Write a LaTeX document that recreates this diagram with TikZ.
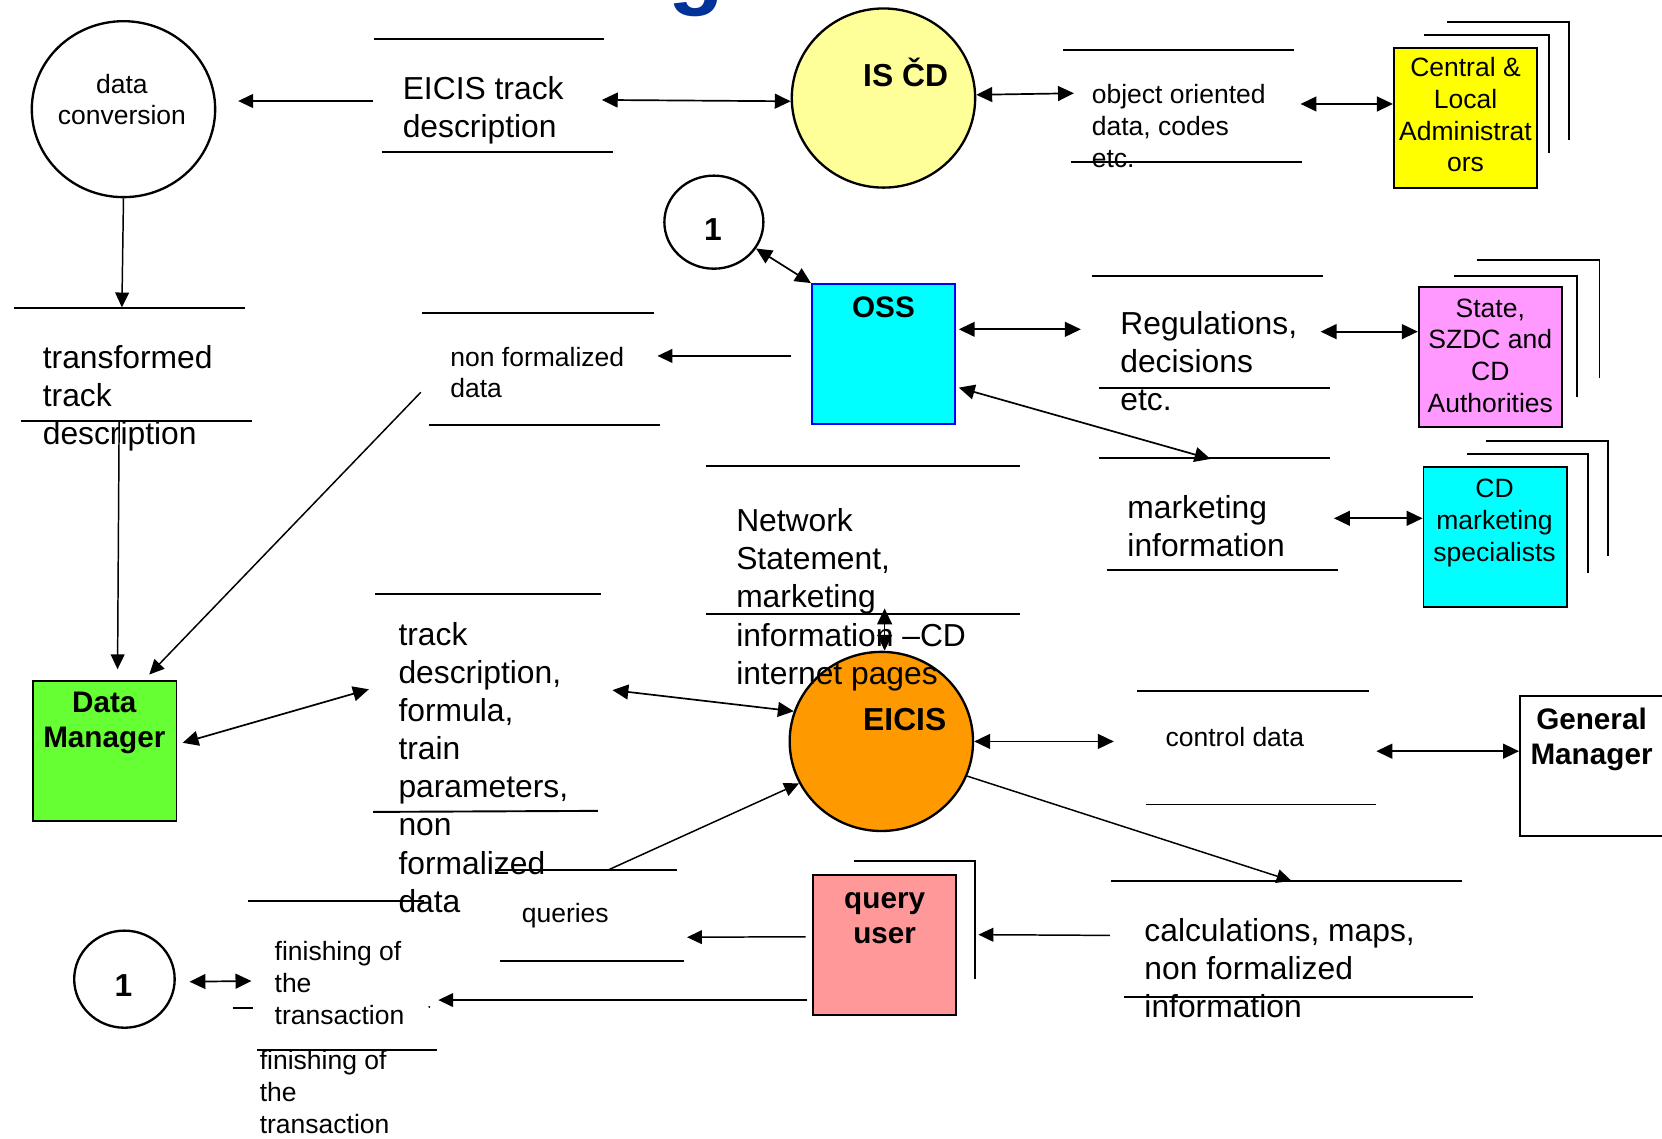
\documentclass[tikz,border=0pt]{standalone}
\usepackage{fontspec}
\setmainfont{Liberation Sans}
\usetikzlibrary{arrows.meta,shapes.geometric,positioning}
\definecolor{iscdyellow}{HTML}{FFFF99}
\definecolor{adminyellow}{HTML}{FFFF00}
\definecolor{osscyan}{HTML}{00FFFF}
\definecolor{ossblue}{HTML}{0000FF}
\definecolor{statepink}{HTML}{FF99FF}
\definecolor{eicisorange}{HTML}{FF9900}
\definecolor{dmgreen}{HTML}{66FF33}
\definecolor{qupink}{HTML}{FF9999}
\definecolor{titleblue}{HTML}{003399}
\tikzset{
  store/.style={line width=0.9pt},
  shadow/.style={line width=0.9pt},
  flow/.style={line width=0.7pt,-{Triangle[length=7pt,width=6.5pt]}},
  dflow/.style={line width=0.8pt,{Triangle[length=7.5pt,width=7pt]}-{Triangle[length=7.5pt,width=7pt]}},
  proc/.style={ellipse,draw,line width=1.1pt,inner sep=0pt},
  ext/.style={rectangle,draw,line width=0.9pt,inner sep=0pt,minimum width=67.5pt,minimum height=66pt},
  bigtxt/.style={anchor=north west,align=left,inner sep=0pt,font=\fontsize{15}{18}\selectfont},
  smalltxt/.style={anchor=north west,align=left,inner sep=0pt,font=\fontsize{12.5}{15}\selectfont},
  boxtxt/.style={anchor=north,align=center,inner sep=0pt,font=\fontsize{12.5}{15}\selectfont},
  boldtxt/.style={anchor=north,align=center,inner sep=0pt,font=\bfseries\fontsize{14}{16.5}\selectfont},
  proctxt/.style={anchor=base west,inner sep=0pt,font=\bfseries\fontsize{15}{18}\selectfont}
}
\begin{document}
\begin{tikzpicture}[x=0.5pt,y=-0.5pt]
\useasboundingbox (0,0) rectangle (1568,1074);

% bottom of the cut title
\node[anchor=base,inner sep=0pt,text=titleblue,font=\bfseries\fontsize{43}{50}\selectfont] (ttl) at (657,-2) {g};

% processes
\node[proc,minimum width=86.5pt,minimum height=83pt] (dconv) at (116.5,103) {};
\node[proc,fill=iscdyellow,minimum width=86.5pt,minimum height=84.5pt] (iscd) at (833.5,92.5) {};
\node[proc,fill=eicisorange,minimum width=86.5pt,minimum height=84.5pt] (eicis) at (831.5,699.5) {};
\node[proc,minimum width=46.7pt,minimum height=43.9pt] (one1) at (673.5,209.6) {};
\node[proc,minimum width=47.4pt,minimum height=45.8pt] (one2) at (117.4,923.8) {};

\node[boxtxt] (dconvtxt) at (115,66.4) {\strut data\\conversion};
\node[proctxt] (iscdtxt) at (814,81.8) {IS ČD};
\node[proctxt] (eicistxt) at (814,689) {EICIS};
\node[proctxt,anchor=base] (one1txt) at (672.7,227) {1};
\node[proctxt,anchor=base] (one2txt) at (116.4,940) {1};

% external entities
\draw[shadow] (1343,33) -| (1461,144);
\draw[shadow] (1365,21) -| (1480,132);
\draw[shadow] (1372,260) -| (1488,375);
\draw[shadow] (1393,245) -| (1509,357);
\draw[shadow] (1384,428) -| (1498,541);
\draw[shadow] (1402,416) -| (1517,525);
\draw[shadow] (806,812) -| (920,924);

\node[ext,fill=adminyellow] (cla) at (1382.5,111) {};
\node[ext,fill=osscyan,draw=ossblue] (oss) at (833.5,334) {};
\node[ext,fill=statepink] (state) at (1406,337) {};
\node[ext,fill=osscyan] (cdm) at (1410.5,506.5) {};
\node[ext,fill=dmgreen] (dm) at (99,708.5) {};
\node[ext,fill=qupink] (qu) at (834.5,891.5) {};
\node[ext,minimum width=69pt] (gm) at (1503,723) {};

\node[boxtxt] (clatxt) at (1382.6,50.7) {\strut Central \&\\Local\\Administrat\\ors};
\node[boxtxt] (statetxt) at (1406,277.7) {\strut State,\\SZDC and\\CD\\Authorities};
\node[boxtxt] (cdmtxt) at (1410,447.9) {\strut CD\\marketing\\specialists};
\node[boldtxt,anchor=base] (osstxt) at (833.5,299.7) {OSS};
\node[boldtxt] (dmtxt) at (98.4,648.9) {\strut Data\\Manager};
\node[boldtxt] (gmtxt) at (1501.5,664.9) {\strut General\\Manager};
\node[boldtxt] (qutxt) at (834.6,833.9) {\strut query\\user};

% data stores
\draw[store] (353,37) -- (570,37);   \draw[store] (360,143) -- (578,143);
\draw[store] (1003,47) -- (1221,47); \draw[store] (1010,153) -- (1228,153);
\draw[store] (13,291) -- (231,291);  \draw[store] (20,397) -- (238,397);
\draw[store] (398,295) -- (617,295); \draw[store] (405,401) -- (623,401);
\draw[store] (1030,260) -- (1248,260); \draw[store] (1037,366) -- (1255,366);
\draw[store] (1037,432) -- (1255,432); \draw[store] (1044,538) -- (1262,538);
\draw[store] (666,440) -- (962,440); \draw[store] (666,579) -- (962,579);
\draw[store] (354,560) -- (567,560); \draw[store] (352,766) -- (564,765);
\draw[store] (1073,652) -- (1292,652); \draw[store] (1081,759) -- (1298,759);
\draw[store] (467,821) -- (639,821); \draw[store] (472,907) -- (645,907);
\draw[store] (1048,831) -- (1379,831); \draw[store] (1060,941) -- (1390,941);
\draw[store] (234,850) -- (400,850); \draw[store] (220,951) -- (239,951);
\draw[store] (242,991) -- (412,991);
\fill (405,950) circle (1);

\node[bigtxt] (s1txt) at (379.6,68.2) {\strut EICIS track\\description};
\node[smalltxt] (s2txt) at (1029.7,76.5) {\strut object oriented\\data, codes\\etc.};
\node[bigtxt] (s3txt) at (40,321.8) {\strut transformed\\track\\description};
\node[smalltxt] (s4txt) at (424.5,324) {\strut non formalized\\data};
\node[bigtxt] (s5txt) at (1056.6,289.8) {\strut Regulations,\\decisions\\etc.};
\node[bigtxt] (s6txt) at (1063.3,463.4) {\strut marketing\\information};
\node[bigtxt] (s7txt) at (694.2,476) {\strut Network\\Statement,\\marketing\\information –CD\\internet pages};
\node[bigtxt] (s8txt) at (375.6,583.1) {\strut track\\description,\\formula,\\train\\parameters,\\non\\formalized\\data};
\node[smalltxt] (s9txt) at (1099.3,683) {\strut control data};
\node[smalltxt] (s10txt) at (491.9,848.6) {\strut queries};
\node[bigtxt] (s11txt) at (1079.3,862.4) {\strut calculations, maps,\\non formalized\\information};
\node[smalltxt] (s12txt) at (258.7,884.7) {\strut finishing of\\the\\transaction};
\node[smalltxt] (s12btxt) at (244.7,987.6) {\strut finishing of\\the\\transaction};

% connector ends
\coordinate (s1l) at (352,95.3);
\coordinate (dconvr) at (224.7,95.3);
\coordinate (s1r) at (567.8,94.3);
\coordinate (s2l) at (1013.2,88);
\coordinate (s2r) at (1227,98.1);
\coordinate (s3t) at (115,290);
\coordinate (s3b) at (112.4,398);
\coordinate (dmt) at (110.9,631.4);
\coordinate (s4r) at (620.3,335.8);
\coordinate (ossw) at (746.6,335.8);
\coordinate (s4b) at (397,370.1);
\coordinate (dmne) at (140.8,636.4);
\coordinate (s5l) at (1019.7,310.7);
\coordinate (osse) at (904.6,310.7);
\coordinate (s5r) at (1245.9,312.9);
\coordinate (osse2) at (904.6,365.7);
\coordinate (s6t) at (1142,433);
\coordinate (s6r) at (1258.5,489);
\coordinate (s7b) at (834.6,574);
\coordinate (s9l) at (1050.8,699.5);
\coordinate (s9r) at (1298.5,708.7);
\coordinate (s11t) at (1218.4,831);
\coordinate (s11l) at (1047.2,882.5);
\coordinate (que) at (923.1,881.8);
\coordinate (quw) at (760.1,883.8);
\coordinate (s10r) at (648.2,884.2);
\coordinate (s10t) at (572.8,821.2);
\coordinate (dme) at (172.3,700.8);
\coordinate (s8l) at (348,650.3);
\coordinate (s8r) at (577.8,651.1);
\coordinate (one2e) at (178.8,926.2);
\coordinate (s12l) at (237.2,925.5);
\coordinate (quw2) at (761.6,943.5);
\coordinate (s12r) at (413.5,943.5);

% flows
\draw[flow] (s1l) -- (dconvr);
\draw[dflow] (s1r) -- (iscd.182);
\draw[dflow] (iscd.2) -- (s2l);
\draw[dflow] (s2r) -- (s2r -| cla.west);
\draw[flow] (dconv.south) -- (s3t);
\draw[flow] (s3b) -- (dmt);
\draw[dflow] (one1.-32) -- (oss.north west);
\draw[flow] (ossw) -- (s4r);
\draw[flow] (s4b) -- (dmne);
\draw[dflow] (osse) -- (s5l);
\draw[dflow] (s5r) -- (s5r -| state.west);
\draw[dflow] (osse2) -- (s6t);
\draw[dflow] (s6r) -- (s6r -| cdm.west);
\draw[dflow] (s7b) -- (s7b |- eicis.north);
\draw[dflow] (eicis.east) -- (s9l);
\draw[dflow] (s9r) -- (s9r -| gm.west);
\draw[flow] (eicis.-22) -- (s11t);
\draw[flow] (s11l) -- (que);
\draw[flow] (quw) -- (s10r);
\draw[flow] (s10t) -- (eicis.207);
\draw[dflow] (dme) -- (s8l);
\draw[dflow] (s8r) -- (eicis.161);
\draw[dflow] (one2e) -- (s12l);
\draw[flow] (quw2) -- (s12r);
\end{tikzpicture}
\end{document}
